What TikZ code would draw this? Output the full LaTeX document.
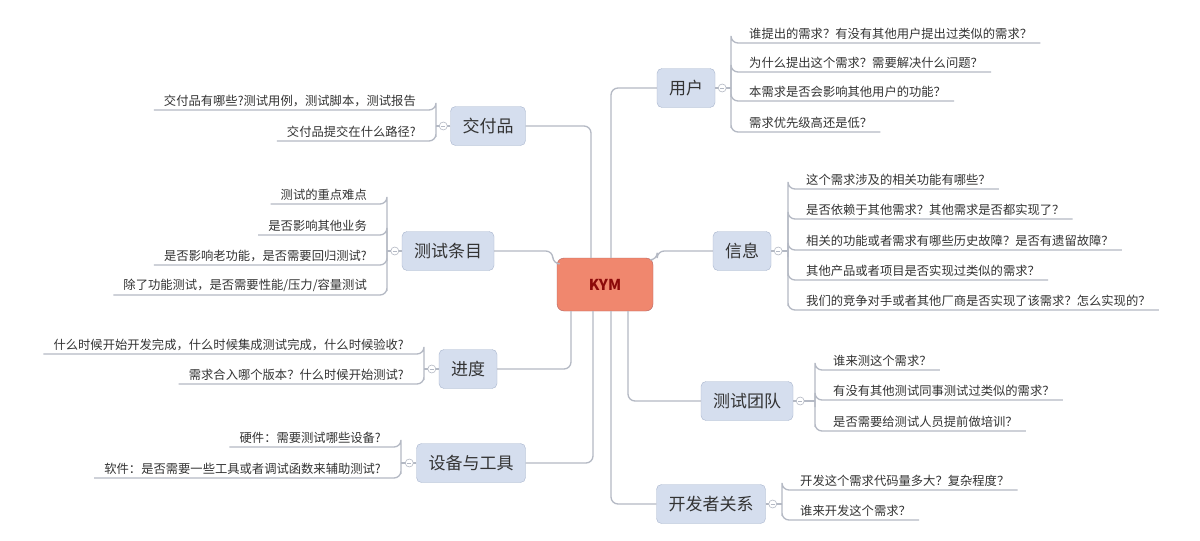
\documentclass[tikz,border=0pt]{standalone}
\usepackage{fontspec}
\setmainfont{Noto Sans CJK SC}
\newcommand{\myRgroup}[4]{%
  \draw[ln] (#1.east) -- (#2,#3);
  \foreach \yy/\txt [count=\i] in {#4}{
    \node[leafR] (#1l\i) at (#2+10,\yy) {\txt};
    \draw[ln] (#2,#3) |- (#2,\yy) -- (#1l\i.south east);
  }
  \node[mc] (#1m) at ([xshift=7pt]#1.east) {};
  \draw[lineC,line width=0.6pt] ([xshift=-2pt]#1m.center) -- ([xshift=2pt]#1m.center);
}
\newcommand{\myLgroup}[4]{%
  \draw[ln] (#1.west) -- (#2,#3);
  \foreach \yy/\txt [count=\i] in {#4}{
    \node[leafL] (#1l\i) at (#2-10,\yy) {\txt};
    \draw[ln] (#2,#3) |- (#2,\yy) -- (#1l\i.south west);
  }
  \node[mc] (#1m) at ([xshift=-7pt]#1.west) {};
  \draw[lineC,line width=0.6pt] ([xshift=-2pt]#1m.center) -- ([xshift=2pt]#1m.center);
}
\begin{document}
\begin{tikzpicture}[x=1pt,y=-1pt,
  ln/.style={draw=lineC,line width=1.3pt,rounded corners=7pt},
  topic/.style={draw=topicD,fill=topicF,rounded corners=5pt,minimum height=39pt,inner xsep=12pt,font=\fontsize{17}{17}\selectfont,text=txtC},
  leafR/.style={anchor=south west,inner xsep=8pt,inner ysep=3pt,font=\fontsize{12.3}{13}\selectfont,text=txtC},
  leafL/.style={anchor=south east,inner xsep=10pt,inner ysep=3pt,font=\fontsize{12.3}{13}\selectfont,text=txtC},
  mc/.style={circle,draw=lineC,fill=white,minimum size=8pt,inner sep=0pt,line width=0.6pt}]
\definecolor{lineC}{HTML}{B4B9C4}
\definecolor{topicF}{HTML}{D5DEEE}
\definecolor{topicD}{HTML}{A9B6CE}
\definecolor{txtC}{HTML}{333333}
\useasboundingbox[fill=white] (0,0) rectangle (1200,541);
% center
\node[draw=black!50!red!60,fill={rgb,255:red,240;green,135;blue,110},rounded corners=7pt,minimum width=96pt,minimum height=53pt,font=\bfseries\fontsize{15}{15}\selectfont,text={rgb,255:red,140;green,10;blue,10}] (c) at (605,284.5) {KYM};
% topics
\node[topic] (u) at (686,88) {用户};
\node[topic] (x) at (742,251) {信息};
\node[topic] (t) at (747,401) {测试团队};
\node[topic] (d) at (711,504) {开发者关系};
\node[topic] (j) at (488,126) {交付品};
\node[topic] (m) at (448,251) {测试条目};
\node[topic] (p) at (468,369) {进度};
\node[topic] (s) at (471,463) {设备与工具};
% center connectors
\draw[ln] (c.north west-|611,0) |- (u.west);
\draw[ln] ([yshift=-2pt]c.north east) -- ++(4,0) |- (x.west);
\draw[ln] (c.south west-|628,0) |- (t.west);
\draw[ln] (c.south west-|611,0) |- (d.west);
\draw[ln] (c.north west-|591,0) |- (j.east);
\draw[ln] ([yshift=-6pt]c.north west) -- ++(-4,0) |- (m.east);
\draw[ln] (c.south west-|571,0) |- (p.east);
\draw[ln] (c.south west-|593,0) |- (s.east);
% groups
\myRgroup{u}{731}{88}{43/{谁提出的需求？有没有其他用户提出过类似的需求？},72/{为什么提出这个需求？需要解决什么问题？},101/{本需求是否会影响其他用户的功能？},132/{需求优先级高还是低？}}
\myRgroup{x}{788}{251}{189/{这个需求涉及的相关功能有哪些？},219/{是否依赖于其他需求？其他需求是否都实现了？},250/{相关的功能或者需求有哪些历史故障？是否有遗留故障？},280/{其他产品或者项目是否实现过类似的需求？},310/{我们的竞争对手或者其他厂商是否实现了该需求？怎么实现的？}}
\myRgroup{t}{815}{401}{370/{谁来测这个需求？},400/{有没有其他测试同事测试过类似的需求？},431/{是否需要给测试人员提前做培训？}}
\myRgroup{d}{782}{504}{490/{开发这个需求代码量多大？复杂程度？},520/{谁来开发这个需求？}}
\myLgroup{j}{436}{126}{110/{交付品有哪些?测试用例，测试脚本，测试报告},141/{交付品提交在什么路径?}}
\myLgroup{m}{387}{251}{204/{测试的重点难点},235/{是否影响其他业务},265/{是否影响老功能，是否需要回归测试?},295/{除了功能测试，是否需要性能/压力/容量测试}}
\myLgroup{p}{424}{369}{354/{什么时候开始开发完成，什么时候集成测试完成，什么时候验收?},384/{需求合入哪个版本？什么时候开始测试?}}
\myLgroup{s}{401}{463}{447/{硬件：需要测试哪些设备?},478/{软件：是否需要一些工具或者调试函数来辅助测试?}}
\end{tikzpicture}
\end{document}
